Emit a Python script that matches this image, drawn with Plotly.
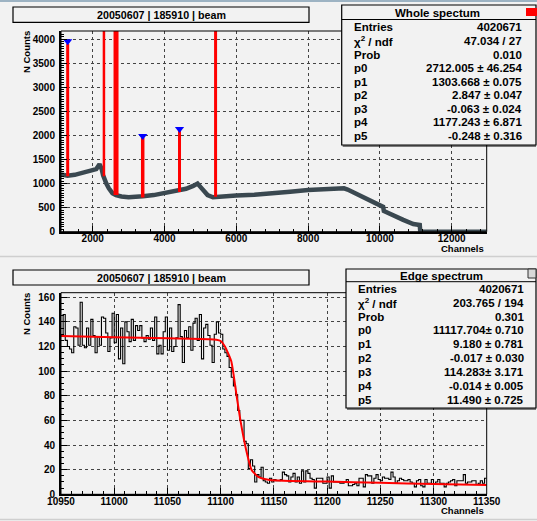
import numpy as np
import plotly.graph_objects as go

W, H = 537, 521

# ---------------- top panel: whole spectrum ----------------
spec_channels = [1120, 1300, 1500, 1800, 2000, 2100, 2190, 2250, 2290, 2330, 2380, 2450, 2550, 2650,
                 2800, 3000, 3200, 3400, 3700, 4000, 4300, 4600, 4800, 4920, 5000, 5100, 5200, 5350,
                 5600, 6000, 6500, 7000, 7500, 8000, 8500, 9000, 9100, 9300, 9500, 9800, 10000,
                 10090, 10110, 10300, 10650, 10930, 11110, 11125, 13000]
spec_counts = [1190, 1160, 1180, 1230, 1270, 1300, 1400, 1300, 1170, 1080, 1000, 900, 800, 760,
               730, 715, 715, 735, 760, 800, 840, 890, 950, 1000, 930, 840, 760, 715,
               720, 750, 765, 790, 830, 865, 885, 900, 875, 800, 730, 630, 555,
               515, 430, 360, 245, 160, 140, 0, 0]

peak_channels = [1303, 2313, 2650, 3393, 4418, 5423]
peak_base = [1150, 1150, 760, 710, 825, 725]
peak_top = [3900, 5000, 5000, 1950, 2090, 5000]
peak_line_widths = [3, 2.5, 5, 3.5, 3, 3]

found_channels = [1303, 3393, 4418]
found_counts = [3952, 1986, 2132]

whole_labels = ["Entries", "χ<sup>2</sup> / ndf", "Prob", "p0", "p1", "p2", "p3", "p4", "p5"]
whole_values = ["4020671", "47.034 / 27", "0.010", "2712.005 ± 46.254", "1303.668 ± 0.075",
                "2.847 ± 0.047", "-0.063 ± 0.024", "1177.243 ± 6.871", "-0.248 ± 0.316"]

# ---------------- bottom panel: edge spectrum (200 bins of 2 channels) ----------------
edge_lo, edge_hi, bin_w = 10950, 11350, 2
edge_counts = [
    129, 146, 125, 120, 118, 115, 136, 135, 121, 156, 121, 119, 135, 121, 142, 129, 115, 128, 121, 144,
    143, 131, 116, 127, 147, 123, 146, 110, 135, 106, 140, 132, 124, 142, 125, 137, 133, 137, 127, 124,
    129, 126, 135, 125, 144, 114, 121, 114, 132, 144, 117, 135, 116, 120, 127,
    154, 128, 107, 133, 127, 136, 117, 139, 143, 125, 146, 110, 135, 138, 129, 121, 107, 130, 140, 131,
    130, 118, 115, 112, 103, 95, 88, 81, 68, 60, 60, 43, 41, 21, 28, 23, 10, 16, 14, 22, 11, 10, 9, 13, 10, 12,
    11, 11, 12, 18, 16, 15, 10, 14, 17, 10, 14, 9, 19, 10, 19, 17, 13, 12, 5, 13,
    13, 13, 9, 9, 14, 5, 15, 10, 10, 10, 9, 9, 10, 12, 7, 7, 8, 9, 7, 13,
    13, 6, 16, 15, 15, 9, 13, 16, 12, 11,
    14, 13, 13, 12, 18, 14, 9, 11, 13, 12, 11, 11, 12, 10, 9, 6, 11, 12, 7, 6,
    12, 9, 9, 12, 8, 10, 12, 9, 9, 6, 9, 10, 11, 12, 7, 11, 11, 11, 16, 9,
    10, 10, 11, 11, 8, 9, 11, 9, 13]

fit_x = [10950, 11000, 11050, 11090, 11096, 11100, 11104, 11110, 11115, 11119, 11124, 11129, 11135,
         11146, 11200, 11250, 11300, 11350]
fit_y = [128.5, 127.5, 126.7, 126.0, 125.5, 124.5, 120, 108, 80, 58, 36, 20, 14.4,
         11.7, 10.3, 9.3, 8.4, 7.6]

edge_labels = ["Entries", "χ<sup>2</sup> / ndf", "Prob", "p0", "p1", "p2", "p3", "p4", "p5"]
edge_values = ["4020671", "203.765 / 194", "0.301", "11117.704± 0.710", "9.180 ± 0.781",
               "-0.017 ± 0.030", "114.283± 3.171", "-0.014 ± 0.005", "11.490 ± 0.725"]

title_text = "20050607 | 185910 | beam"

# ---------------- helpers (pixel -> paper) ----------------
def X(p):
    return p / W

def Y(p):
    return 1 - p / H

BG = "#f2f2f2"
FONT = "Liberation Sans"

fig = go.Figure()

# top spectrum
fig.add_trace(go.Scatter(x=spec_channels, y=spec_counts, mode="lines",
                         line=dict(color="#3a4850", width=4.5), xaxis="x", yaxis="y",
                         showlegend=False, hoverinfo="skip"))
for c, b, t, w in zip(peak_channels, peak_base, peak_top, peak_line_widths):
    fig.add_trace(go.Scatter(x=[c, c], y=[b, t], mode="lines",
                             line=dict(color="#ff0000", width=w), xaxis="x", yaxis="y",
                             showlegend=False, hoverinfo="skip"))
fig.add_trace(go.Scatter(x=found_channels, y=found_counts, mode="markers",
                         marker=dict(symbol="triangle-down", size=8, color="#0000ff"),
                         xaxis="x", yaxis="y", showlegend=False, hoverinfo="skip"))

# bottom histogram
edges = np.arange(edge_lo, edge_hi + bin_w, bin_w)
fig.add_trace(go.Scatter(x=edges, y=list(edge_counts) + [edge_counts[-1]], mode="lines",
                         line=dict(color="#000000", width=1.1, shape="hv"), xaxis="x2", yaxis="y2",
                         showlegend=False, hoverinfo="skip"))
fig.add_trace(go.Scatter(x=fit_x, y=fit_y, mode="lines",
                         line=dict(color="#ff0000", width=2, shape="spline", smoothing=0.5),
                         xaxis="x2", yaxis="y2", showlegend=False, hoverinfo="skip"))

tickfont = dict(family=FONT, size=10, color="black", weight="bold")

def axis(domain, rng, dtick, tick0, minor_dtick, anchor, standoff):
    return dict(domain=domain, range=rng, dtick=dtick, tick0=tick0, anchor=anchor,
                automargin=False, tickformat="d", ticklabelstandoff=standoff,
                showline=True, linecolor="black", linewidth=2, mirror=False,
                ticks="inside", ticklen=6, tickwidth=1, tickcolor="black",
                showgrid=True, gridcolor="#444444", griddash="dot", gridwidth=1,
                zeroline=False, tickfont=tickfont, fixedrange=True,
                minor=dict(ticks="inside", ticklen=3, tickwidth=1, tickcolor="black",
                           dtick=minor_dtick, tick0=tick0, showgrid=False))

fx0, fx1 = X(61), X(486.7)
fig.update_layout(
    template="none",
    width=W, height=H, margin=dict(l=0, r=0, t=0, b=0, pad=0), autosize=False,
    paper_bgcolor=BG, plot_bgcolor=BG, hovermode=False,
    xaxis=axis([fx0, fx1], [1117, 12975], 2000, 0, 400, "y", -4),
    yaxis=axis([Y(231.7), Y(31)], [0, 4166], 500, 0, 50, "x", 2),
    xaxis2=axis([fx0, fx1], [10950, 11350], 50, 10950, 10, "y2", -3),
    yaxis2=axis([Y(494.3), Y(292.7)], [0, 163.7], 20, 0, 5, "x2", 2),
)

shapes = []
# frames (thin top/right edges)
for xr, yr in (("x domain", "y domain"), ("x2 domain", "y2 domain")):
    shapes.append(dict(type="rect", xref=xr, yref=yr, x0=0, x1=1, y0=0, y1=1,
                       line=dict(color="black", width=1), layer="above"))
# pad borders
shapes.append(dict(type="rect", xref="paper", yref="paper", x0=0, x1=1, y0=Y(2), y1=1,
                   fillcolor="#9db3c3", line=dict(width=0), layer="above"))
for yy in (256.5, 519.5):
    shapes.append(dict(type="line", xref="paper", yref="paper", x0=0, x1=1, y0=Y(yy), y1=Y(yy),
                       line=dict(color="#cfcfcf", width=1.5), layer="above"))
# title boxes
for top, bot in ((7, 22.3), (270, 285)):
    shapes.append(dict(type="rect", xref="paper", yref="paper", x0=X(13), x1=X(309), y0=Y(bot), y1=Y(top),
                       fillcolor=BG, line=dict(color="black", width=1.2), layer="above"))
# stats boxes
for x0, top, sep, bot in ((341.7, 5, 19.5, 145), (346, 269, 281.7, 408)):
    shapes.append(dict(type="rect", xref="paper", yref="paper", x0=X(x0), x1=X(536), y0=Y(bot), y1=Y(top),
                       fillcolor=BG, line=dict(color="black", width=1.2), layer="above"))
    shapes.append(dict(type="line", xref="paper", yref="paper", x0=X(x0), x1=X(536), y0=Y(sep), y1=Y(sep),
                       line=dict(color="black", width=1), layer="above"))
    shapes.append(dict(type="line", xref="paper", yref="paper", x0=X(x0 + 1), x1=X(536), y0=Y(bot + 1), y1=Y(bot + 1),
                       line=dict(color="black", width=1), layer="above"))
# small icons at the right
shapes.append(dict(type="rect", xref="paper", yref="paper", x0=X(526), x1=X(537), y0=Y(16), y1=Y(8),
                   fillcolor="#ff0000", line=dict(width=0), layer="above"))
shapes.append(dict(type="rect", xref="paper", yref="paper", x0=X(528), x1=X(536), y0=Y(278), y1=Y(269),
                   fillcolor="#d8d8d8", line=dict(color="#333333", width=1), layer="above"))
fig.update_layout(shapes=shapes)

ann = []
bold = dict(family=FONT, color="black", weight="bold")

def text(x, y, s, size, xanchor="center", angle=0):
    ann.append(dict(xref="paper", yref="paper", x=X(x), y=Y(y), text=s, showarrow=False,
                    xanchor=xanchor, yanchor="middle", textangle=angle,
                    font=dict(size=size, **bold)))

text(161, 14.7, title_text, 10.7)
text(161, 277.5, title_text, 10.7)
text(437.8, 12.5, "Whole spectum", 11.5)
text(441.7, 275.5, "Edge spectrum", 11.5)

top_rows = [27, 41, 54.5, 68, 81.5, 95, 108.5, 122, 135.5]
for r, lab, val in zip(top_rows, whole_labels, whole_values):
    text(352.3, r, lab, 11.5, "left")
    text(524, r, val, 11.5, "right")
bot_rows = [288.5, 302.5, 316.5, 330, 344, 358, 372, 386, 400]
for r, lab, val in zip(bot_rows, edge_labels, edge_values):
    text(356, r, lab, 11.5, "left")
    text(526, r, val, 11.5, "right")

text(26, 52, "N Counts", 9.5, angle=-90)
text(26, 314, "N Counts", 9.5, angle=-90)
text(486, 248.5, "Channels", 9.5, "right")
text(486, 510.5, "Channels", 9.5, "right")
fig.update_layout(annotations=ann)

fig.write_html("out.html", config={"displayModeBar": False, "staticPlot": True},
               post_script="document.body.style.margin='0';document.body.style.overflow='hidden';")
